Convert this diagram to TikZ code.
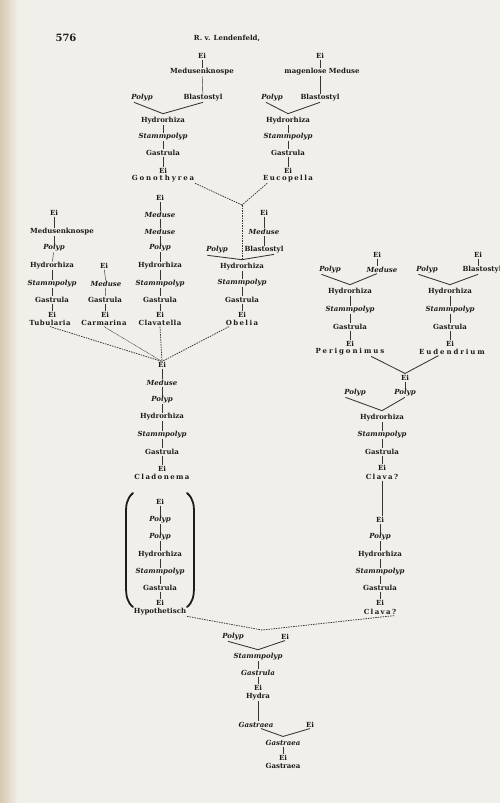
\documentclass[tikz,border=0pt]{standalone}
\usepackage{fontspec}
\setmainfont{DejaVu Serif}
\newfontfamily\spacedfont{DejaVu Serif}[LetterSpace=20]
\newfontfamily\widefont{DejaVu Serif}[LetterSpace=27]
\newfontfamily\tightfont{DejaVu Serif}[LetterSpace=6]
\usetikzlibrary{calc}
\definecolor{paper}{RGB}{241,239,233}
\definecolor{shadow}{RGB}{214,200,178}
\definecolor{ink}{RGB}{30,28,26}
\definecolor{ln}{RGB}{55,52,50}
\begin{document}
\begin{tikzpicture}[x=1pt,y=-1pt,
  lbl/.style={font=\fontsize{7}{7}\selectfont\bfseries, inner sep=0.7pt, text=ink},
  itl/.style={lbl, font=\fontsize{7}{7}\selectfont\bfseries\itshape},
  gen/.style={lbl, font=\fontsize{7}{7}\selectfont\spacedfont\bfseries},
  genw/.style={lbl, font=\fontsize{7}{7}\selectfont\widefont\bfseries},
  gent/.style={lbl, font=\fontsize{7}{7}\selectfont\tightfont\bfseries},
  stem/.style={draw=ln, line width=0.45pt},
  vee/.style={draw=ln, line width=0.85pt},
  dashline/.style={draw=ln, line width=0.75pt, dash pattern=on 1.5pt off 1pt},
  dotline/.style={draw=ln, line width=0.5pt, dash pattern=on 0.8pt off 0.6pt},
  paren/.style={draw=ink, line width=1.8pt, line cap=round}]
\fill[paper] (0,0) rectangle (500,803);
\shade[left color=shadow, right color=paper] (0,0) rectangle (18,803);
\useasboundingbox (0,0) rectangle (500,803);

% header
\node[font=\fontsize{10}{11}\selectfont\bfseries, text=ink] (pg) at (66,38) {576};
\node[font=\fontsize{7}{8}\selectfont\bfseries, text=ink] (hd) at (227,38) {R. v. Lendenfeld,};

% Tree A: Gonothyrea
\node[lbl] (a1) at (202,56) {Ei};
\node[lbl] (a2) at (202,72) {Medusenknospe};
\node[itl] (a3) at (142,98) {Polyp};
\node[lbl] (a4) at (203,98) {Blastostyl};
\node[lbl] (a5) at (163,121) {Hydrorhiza};
\node[itl] (a6) at (163,137) {Stammpolyp};
\node[lbl] (a7) at (163,153) {Gastrula};
\node[lbl] (a8) at (163,171) {Ei};
\node[genw] (a9) at (163,179) {Gonothyrea};
\draw[stem] (a1) -- (a2); \draw[stem] (a2) -- (a4);
\coordinate (va) at ([yshift=3pt]a5.north);
\draw[vee] ([xshift=-8pt]a3.south) -- (va) -- (a4.south);
\draw[stem] (a5) -- (a6); \draw[stem] (a6) -- (a7); \draw[stem] (a7) -- (a8);

% Tree B: Eucopella
\node[lbl] (b1) at (320,56) {Ei};
\node[lbl] (b2) at (322,72) {magenlose Meduse};
\node[itl] (b3) at (272,98) {Polyp};
\node[lbl] (b4) at (320,98) {Blastostyl};
\node[lbl] (b5) at (288,121) {Hydrorhiza};
\node[itl] (b6) at (288,137) {Stammpolyp};
\node[lbl] (b7) at (288,153) {Gastrula};
\node[lbl] (b8) at (288,171) {Ei};
\node[gen] (b9) at (288,179) {Eucopella};
\draw[stem] (b1) -- (b1 |- b2.north); \draw[stem] (b1 |- b2.south) -- (b4);
\coordinate (vb) at ([yshift=3pt]b5.north);
\draw[vee] ([xshift=-6pt]b3.south) -- (vb) -- (b4.south);
\draw[stem] (b5) -- (b6); \draw[stem] (b6) -- (b7); \draw[stem] (b7) -- (b8);

% junction of Gonothyrea and Eucopella
\coordinate (j1) at (242,205);
\draw[dashline] (a9.south east) -- (j1);
\draw[dashline] ([xshift=5pt]b9.south west) -- (j1);

% Tree C: Obelia
\node[lbl] (c1) at (264,213) {Ei};
\node[itl] (c2) at (264,232) {Meduse};
\node[lbl] (c3) at (264,250) {Blastostyl};
\node[itl] (c4) at (217,250) {Polyp};
\node[lbl] (c5) at (242,267) {Hydrorhiza};
\node[itl] (c6) at (242,283) {Stammpolyp};
\node[lbl] (c7) at (242,300) {Gastrula};
\node[lbl] (c8) at (242,315) {Ei};
\node[gen] (c9) at (242,323) {Obelia};
\draw[stem] (c1) -- (c2); \draw[stem] (c2) -- (c3);
\coordinate (jh) at ([yshift=3pt]c5.north);
\draw[dashline] (j1) -- (jh);
\draw[vee] ([xshift=2pt,yshift=-1pt]c4.south west) -- (jh) -- ($(c3.south)!0.5!(c3.south east)$);
\draw[stem] (c5) -- (c6); \draw[stem] (c6) -- (c7); \draw[stem] (c7) -- (c8);

% Tree D: Tubularia
\node[lbl] (d1) at (54,213) {Ei};
\node[lbl] (d2) at (62,232) {Medusenknospe};
\node[itl] (d3) at (54,248) {Polyp};
\node[lbl] (d4) at (52,266) {Hydrorhiza};
\node[itl] (d5) at (52,284) {Stammpolyp};
\node[lbl] (d6) at (52,300) {Gastrula};
\node[lbl] (d7) at (52,315) {Ei};
\node[gent] (d8) at (50,323) {Tubularia};
\draw[stem] (d1) -- (d1 |- d2.north); \draw[stem] (d1 |- d2.south) -- (d3);
\draw[stem] (d3) -- (d4); \draw[stem] (d4) -- (d5); \draw[stem] (d5) -- (d6); \draw[stem] (d6) -- (d7);

% Tree E: Carmarina
\node[lbl] (e1) at (104,266) {Ei};
\node[itl] (e2) at (106,284) {Meduse};
\node[lbl] (e3) at (105,300) {Gastrula};
\node[lbl] (e4) at (105,315) {Ei};
\node[gent] (e5) at (104,323) {Carmarina};
\draw[stem] (e1) -- (e2); \draw[stem] (e2) -- (e3); \draw[stem] (e3) -- (e4);

% Tree F: Clavatella
\node[lbl] (f1) at (160,198) {Ei};
\node[itl] (f2) at (160,215) {Meduse};
\node[itl] (f3) at (160,232) {Meduse};
\node[itl] (f4) at (160,248) {Polyp};
\node[lbl] (f5) at (160,266) {Hydrorhiza};
\node[itl] (f6) at (160,284) {Stammpolyp};
\node[lbl] (f7) at (160,300) {Gastrula};
\node[lbl] (f8) at (160,315) {Ei};
\node[gent] (f9) at (160,323) {Clavatella};
\draw[stem] (f1) -- (f2); \draw[stem] (f2) -- (f3); \draw[stem] (f3) -- (f4);
\draw[stem] (f4) -- (f5); \draw[stem] (f5) -- (f6); \draw[stem] (f6) -- (f7); \draw[stem] (f7) -- (f8);

% Tree G: Cladonema
\node[lbl] (g0) at (162,365) {Ei};
\node[itl] (g1) at (162,383) {Meduse};
\node[itl] (g2) at (162,400) {Polyp};
\node[lbl] (g3) at (162,417) {Hydrorhiza};
\node[itl] (g4) at (162,435) {Stammpolyp};
\node[lbl] (g5) at (162,452) {Gastrula};
\node[lbl] (g6) at (162,469) {Ei};
\node[gen] (g7) at (162,477) {Cladonema};
\draw[dashline] (d8.south) -- (g0.north);
\draw[dotline] (e5.south) -- (g0.north);
\draw[dashline] (f9.south) -- (g0.north);
\draw[dashline] ([xshift=4pt]c9.south west) -- (g0.north);
\draw[stem] (g0) -- (g1); \draw[stem] (g1) -- (g2); \draw[stem] (g2) -- (g3);
\draw[stem] (g3) -- (g4); \draw[stem] (g4) -- (g5); \draw[stem] (g5) -- (g6);

% Tree H: hypothetical (in brackets)
\node[lbl] (h1) at (160,502) {Ei};
\node[itl] (h2) at (160,520) {Polyp};
\node[itl] (h3) at (160,537) {Polyp};
\node[lbl] (h4) at (160,555) {Hydrorhiza};
\node[itl] (h5) at (160,572) {Stammpolyp};
\node[lbl] (h6) at (160,588) {Gastrula};
\node[lbl] (h7) at (160,603) {Ei};
\node[lbl] (h8) at (160,612) {Hypothetisch};
\draw[stem] (h1) -- (h2); \draw[stem] (h2) -- (h3); \draw[stem] (h3) -- (h4);
\draw[stem] (h4) -- (h5); \draw[stem] (h5) -- (h6); \draw[stem] (h6) -- (h7);
\draw[paren] (133,493) .. controls (126,499) and (126,506) .. (126,515) -- (126,586) .. controls (126,596) and (127,602) .. (133,607);
\draw[paren] (187,493) .. controls (194,499) and (194,506) .. (194,515) -- (194,586) .. controls (194,596) and (193,602) .. (187,607);

% Tree P: Perigonimus
\node[lbl] (p1) at (377,255) {Ei};
\node[itl] (p2) at (382,270) {Meduse};
\node[itl] (p3) at (330,270) {Polyp};
\node[lbl] (p4) at (350,292) {Hydrorhiza};
\node[itl] (p5) at (350,310) {Stammpolyp};
\node[lbl] (p6) at (350,327) {Gastrula};
\node[lbl] (p7) at (350,344) {Ei};
\node[genw] (p8) at (350,352) {Perigonimus};
\draw[stem] (p1) -- (p1 |- p2.north);
\coordinate (vp) at ([yshift=3pt]p4.north);
\draw[vee] ([xshift=3pt]p3.south west) -- (vp) -- (p1 |- p2.south);
\draw[stem] (p4) -- (p5); \draw[stem] (p5) -- (p6); \draw[stem] (p6) -- (p7);

% Tree Q: Eudendrium
\node[lbl] (q1) at (478,255) {Ei};
\node[lbl] (q2) at (482,270) {Blastostyl};
\node[itl] (q3) at (427,270) {Polyp};
\node[lbl] (q4) at (450,292) {Hydrorhiza};
\node[itl] (q5) at (450,310) {Stammpolyp};
\node[lbl] (q6) at (450,327) {Gastrula};
\node[lbl] (q7) at (450,344) {Ei};
\node[genw] (q8) at (452,352) {Eudendrium};
\draw[stem] (q1) -- (q1 |- q2.north);
\coordinate (vq) at ([yshift=3pt]q4.north);
\draw[vee] ([xshift=3pt]q3.south west) -- (vq) -- (q1 |- q2.south);
\draw[stem] (q4) -- (q5); \draw[stem] (q5) -- (q6); \draw[stem] (q6) -- (q7);

% Tree R: Clava? (upper)
\node[lbl] (r0) at (405,378) {Ei};
\node[itl] (r1) at (355,393) {Polyp};
\node[itl] (r2) at (405,393) {Polyp};
\node[lbl] (r3) at (382,418) {Hydrorhiza};
\node[itl] (r4) at (382,435) {Stammpolyp};
\node[lbl] (r5) at (382,452) {Gastrula};
\node[lbl] (r6) at (382,468) {Ei};
\node[gen] (r7) at (382,477) {Clava?};
\coordinate (vr0) at ([yshift=1pt]r0.north);
\draw[vee] ($(p8.south)!0.6!(p8.south east)$) -- (vr0) -- ($(q8.south)!0.4!(q8.south west)$);
\draw[stem] (r0) -- (r2);
\coordinate (vr) at ([yshift=3pt]r3.north);
\draw[vee] ([xshift=2pt]r1.south west) -- (vr) -- (r2.south);
\draw[stem] (r3) -- (r4); \draw[stem] (r4) -- (r5); \draw[stem] (r5) -- (r6);

% Tree S: Clava? (lower)
\node[lbl] (s1) at (380,520) {Ei};
\node[itl] (s2) at (380,537) {Polyp};
\node[lbl] (s3) at (380,555) {Hydrorhiza};
\node[itl] (s4) at (380,572) {Stammpolyp};
\node[lbl] (s5) at (380,588) {Gastrula};
\node[lbl] (s6) at (380,603) {Ei};
\node[gen] (s7) at (380,612) {Clava?};
\draw[stem] (r7) -- (r7 |- s1.north);
\draw[stem] (s1) -- (s2); \draw[stem] (s2) -- (s3); \draw[stem] (s3) -- (s4);
\draw[stem] (s4) -- (s5); \draw[stem] (s5) -- (s6);

% Tree T: Hydra
\coordinate (t0) at (262,630);
\draw[dashline] (h8.south east) -- (t0);
\draw[dashline] ([xshift=-3pt]s7.south east) -- (t0);
\node[itl] (t1) at (233,637) {Polyp};
\node[lbl] (t2) at (285,637) {Ei};
\node[itl] (t3) at (258,657) {Stammpolyp};
\node[itl] (t4) at (258,673) {Gastrula};
\node[lbl] (t5) at (258,688) {Ei};
\node[lbl] (t6) at (258,697) {Hydra};
\coordinate (vt) at ([yshift=3pt]t3.north);
\draw[vee] ([xshift=-5pt]t1.south) -- (vt) -- (t2.south);
\draw[stem] (t3) -- (t4); \draw[stem] (t4) -- (t5);

% Tree U: Gastraea
\node[itl] (u1) at (256,725) {Gastraea};
\node[lbl] (u2) at (310,725) {Ei};
\node[itl] (u3) at (283,743) {Gastraea};
\node[lbl] (u4) at (283,758) {Ei};
\node[lbl] (u5) at (283,766) {Gastraea};
\draw[stem] (t6) -- (t6 |- u1.north);
\coordinate (vu) at ([yshift=3pt]u3.north);
\draw[vee] ([xshift=5pt]u1.south) -- (vu) -- (u2.south);
\draw[stem] (u3) -- (u4);
\end{tikzpicture}
\end{document}
